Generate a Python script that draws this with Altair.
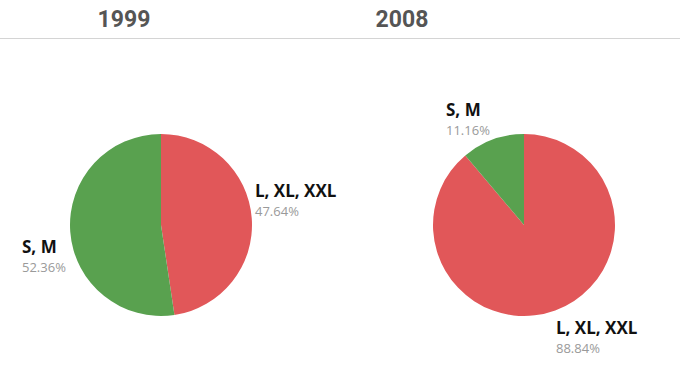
import altair as alt
import pandas as pd

years = ["1999", "1999", "2008", "2008"]
sizes = ["L, XL, XXL", "S, M", "L, XL, XXL", "S, M"]
pcts = [47.64, 52.36, 88.84, 11.16]
size_order = [0, 1, 0, 1]

df = pd.DataFrame({"year": years, "size": sizes, "pct": pcts, "ord": size_order})
titles = pd.DataFrame({"year": ["1999", "2008"]})

RED, GREEN = "#E15759", "#59A14F"
FONT = "Open Sans"

# layout (pixels)
pie_center = {"1999": (161, 225), "2008": (524, 225)}
title_x = {"1999": 124, "2008": 402}
label_pos = {
    ("1999", "L, XL, XXL"): (255, 197),
    ("1999", "S, M"): (22, 253),
    ("2008", "S, M"): (446, 116),
    ("2008", "L, XL, XXL"): (556, 334),
}

base = alt.Chart(df)
layers = []

for yr, (cx, cy) in pie_center.items():
    layers.append(
        base.transform_filter(alt.datum.year == yr)
        .mark_arc(outerRadius=91, strokeWidth=0)
        .encode(
            x=alt.value(cx),
            y=alt.value(cy),
            theta=alt.Theta("pct:Q", stack=True),
            order=alt.Order("ord:Q"),
            color=alt.Color(
                "size:N",
                scale=alt.Scale(domain=["L, XL, XXL", "S, M"], range=[RED, GREEN]),
                legend=None,
            ),
        )
    )

for (yr, sz), (lx, ly) in label_pos.items():
    sel = base.transform_filter((alt.datum.year == yr) & (alt.datum.size == sz))
    layers.append(
        sel.mark_text(align="left", baseline="alphabetic", font=FONT, fontSize=17,
                      fontWeight="bold", color="#111111")
        .encode(x=alt.value(lx), y=alt.value(ly), text="size:N")
    )
    layers.append(
        sel.transform_calculate(label="format(datum.pct / 100, '.2%')")
        .mark_text(align="left", baseline="alphabetic", font=FONT, fontSize=13,
                   color="#9a9a9a")
        .encode(x=alt.value(lx), y=alt.value(ly + 19), text="label:N")
    )

for yr, tx in title_x.items():
    layers.append(
        alt.Chart(titles).transform_filter(alt.datum.year == yr)
        .mark_text(align="center", baseline="alphabetic",
                   font="Roboto, sans-serif",
                   fontSize=23, fontWeight="bold", color="#555555")
        .encode(x=alt.value(tx), y=alt.value(27), text="year:N")
    )

layers.append(
    alt.Chart(titles).mark_rule(color="#d4d4d4", strokeWidth=1)
    .encode(x=alt.value(0), x2=alt.value(680), y=alt.value(38.5))
)

chart = (
    alt.layer(*layers)
    .properties(width=680, height=381, padding=0, autosize=alt.AutoSizeParams(type="none"))
    .configure_view(stroke=None)
)

chart.save("out.html", embed_options={"renderer": "svg", "actions": False})
